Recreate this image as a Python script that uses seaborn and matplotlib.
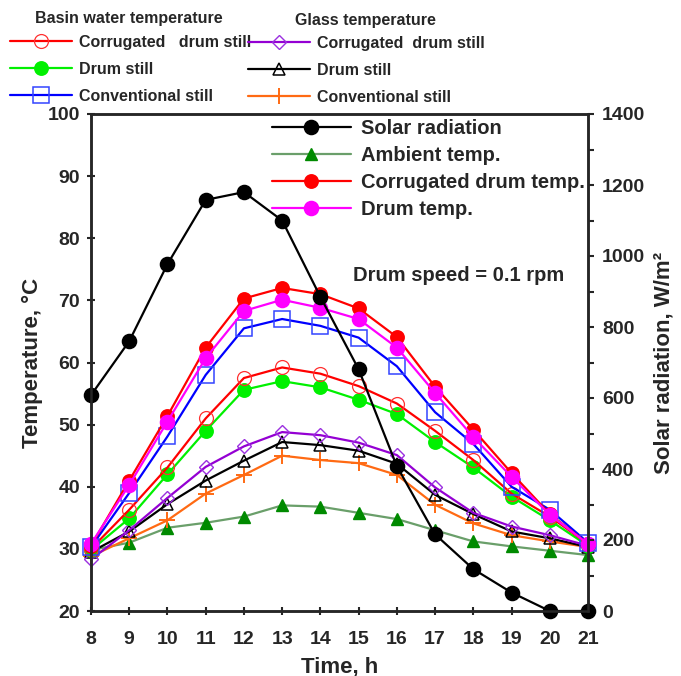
import numpy as np
import seaborn as sns
import matplotlib.pyplot as plt
from matplotlib.ticker import MultipleLocator

hours = list(range(8, 22))

# solar radiation, W/m2 (right axis)
solar = [608, 760, 977, 1158, 1180, 1100, 885, 681, 408, 216, 118, 52, 0, 0]

# temperatures, C (left axis)
ambient = [29.8, 31.0, 33.4, 34.2, 35.2, 37.0, 36.8, 35.8, 34.8, 33.0, 31.2, 30.4, 29.7, 29.0]
corr_drum_temp = [30.5, 41.0, 51.4, 62.4, 70.3, 72.0, 71.0, 68.7, 64.1, 56.1, 49.2, 42.2, 35.6, 30.8]
drum_temp = [30.8, 40.3, 50.5, 60.7, 68.3, 70.1, 68.8, 67.0, 62.4, 55.1, 48.0, 41.6, 35.5, 30.8]

basin_corr = [30.0, 36.3, 43.1, 51.0, 57.5, 59.2, 58.2, 56.2, 53.4, 49.0, 44.3, 38.9, 35.2, 30.8]
basin_drum = [29.8, 34.9, 42.0, 49.0, 55.6, 57.0, 56.0, 54.0, 51.7, 47.2, 43.1, 38.4, 34.6, 30.5]
basin_conv = [30.3, 39.0, 48.1, 58.0, 65.5, 67.0, 65.9, 64.0, 59.4, 52.0, 46.9, 40.0, 36.3, 31.0]

glass_corr = [28.3, 33.0, 38.2, 43.2, 46.5, 48.8, 48.3, 47.1, 45.1, 39.9, 35.8, 33.6, 32.2, 30.5]
glass_drum = [29.5, 32.8, 37.2, 41.0, 44.2, 47.2, 46.7, 45.8, 43.7, 38.7, 35.6, 32.8, 31.7, 30.3]
glass_conv = [28.8, 31.7, 34.6, 38.9, 41.9, 45.0, 44.3, 43.8, 41.9, 37.1, 34.1, 32.2, 31.2, 30.3]

basin_labels = ['Corrugated   drum still', 'Drum still', 'Conventional still']
glass_labels = ['Corrugated  drum still', 'Drum still', 'Conventional still']
inner_labels = ['Solar radiation', 'Ambient temp.', 'Corrugated drum temp.', 'Drum temp.']

sns.set_style('ticks')
plt.rcParams['font.family'] = ['Liberation Sans', 'DejaVu Sans']
plt.rcParams['font.weight'] = 'bold'
plt.rcParams['axes.labelweight'] = 'bold'

fig = plt.figure(figsize=(6.81, 6.76), dpi=100)
ax = fig.add_axes([91/681, 65/676, 497/681, 497/676])
ax2 = ax.twinx()


def draw(a, y, color, marker, ms, mfc, mec=None, mew=1.2, lw=1.6):
    sns.lineplot(x=hours, y=y, ax=a, color=color, marker=marker, markersize=ms,
                 markerfacecolor=mfc, markeredgecolor=mec or color,
                 markeredgewidth=mew, linewidth=lw, errorbar=None, clip_on=False)
    return a.lines[-1]


l_amb = draw(ax, ambient, '#6a9f6a', '^', 8, '#008a00', '#008a00', 1.0)
l_gconv = draw(ax, glass_conv, '#ff6a13', '+', 11, 'none', mew=1.4)
l_gdrum = draw(ax, glass_drum, 'black', '^', 8, 'none', mew=1.1)
l_gcorr = draw(ax, glass_corr, '#9400d3', 'D', 7.5, 'none', '#9b30e0', 1.0)
l_bdrum = draw(ax, basin_drum, '#00f000', 'o', 9.5, '#00f000')
l_bcorr = draw(ax, basin_corr, 'red', 'o', 10, 'none', '#ff3030', 0.9)
l_bconv = draw(ax, basin_conv, 'blue', 's', 11, 'none', '#3344ff', 1.1)
l_cd = draw(ax, corr_drum_temp, 'red', 'o', 9.5, 'red')
l_d = draw(ax, drum_temp, '#ff00ff', 'o', 10, '#ff00ff')

l_solar = draw(ax2, solar, 'black', 'o', 10, 'black')

ax.set_xlim(8, 21)
ax.set_ylim(20, 100)
ax.set_xticks(hours)
ax.set_yticks(range(20, 101, 10))
ax2.set_ylim(0, 1400)
ax2.set_yticks(range(0, 1401, 200))
ax2.yaxis.set_minor_locator(MultipleLocator(100))

ax.tick_params(direction='inout', length=6, width=1.5, labelsize=14, pad=5)
ax.tick_params(axis='x', pad=11.5)
ax2.tick_params(axis='y', which='both', direction='out', length=4, width=1.5, labelsize=14, pad=6)
for a in (ax, ax2):
    for s in a.spines.values():
        s.set_linewidth(1.8)
        s.set_visible(True)

ax.set_xlabel('Time, h', fontsize=16, labelpad=6)
ax.set_ylabel('Temperature, °C', fontsize=16, labelpad=3)
ax2.set_ylabel('Solar radiation, W/m²', fontsize=16, labelpad=6)

ax.text(0.527, 0.676, 'Drum speed = 0.1 rpm', transform=ax.transAxes,
        fontsize=14.5, fontweight='bold', va='center', ha='left')

ax2.legend([l_solar, l_amb, l_cd, l_d], inner_labels, loc='upper left',
           bbox_to_anchor=(272/681, 1 - 119/676), bbox_transform=fig.transFigure,
           frameon=False, borderpad=0, borderaxespad=0, handlelength=3.9,
           handletextpad=0.5, labelspacing=0.4, prop=dict(weight='bold', size=14.5))

leg1 = fig.legend([l_bcorr, l_bdrum, l_bconv], basin_labels, loc='upper left',
                  bbox_to_anchor=(10/681, 1 - 35/676), frameon=False, borderpad=0,
                  borderaxespad=0, handlelength=3.9, handletextpad=0.4,
                  labelspacing=0.75, prop=dict(weight='bold', size=11.5))
leg2 = fig.legend([l_gcorr, l_gdrum, l_gconv], glass_labels, loc='upper left',
                  bbox_to_anchor=(248/681, 1 - 36/676), frameon=False, borderpad=0,
                  borderaxespad=0, handlelength=3.9, handletextpad=0.4,
                  labelspacing=0.75, prop=dict(weight='bold', size=11.5))

fig.text(129/681, 1 - 18/676, 'Basin water temperature', ha='center', va='center',
         fontsize=11.5, fontweight='bold')
fig.text(365/681, 1 - 20/676, 'Glass temperature', ha='center', va='center',
         fontsize=11.5, fontweight='bold')

fig.savefig('out.png', dpi=100)
